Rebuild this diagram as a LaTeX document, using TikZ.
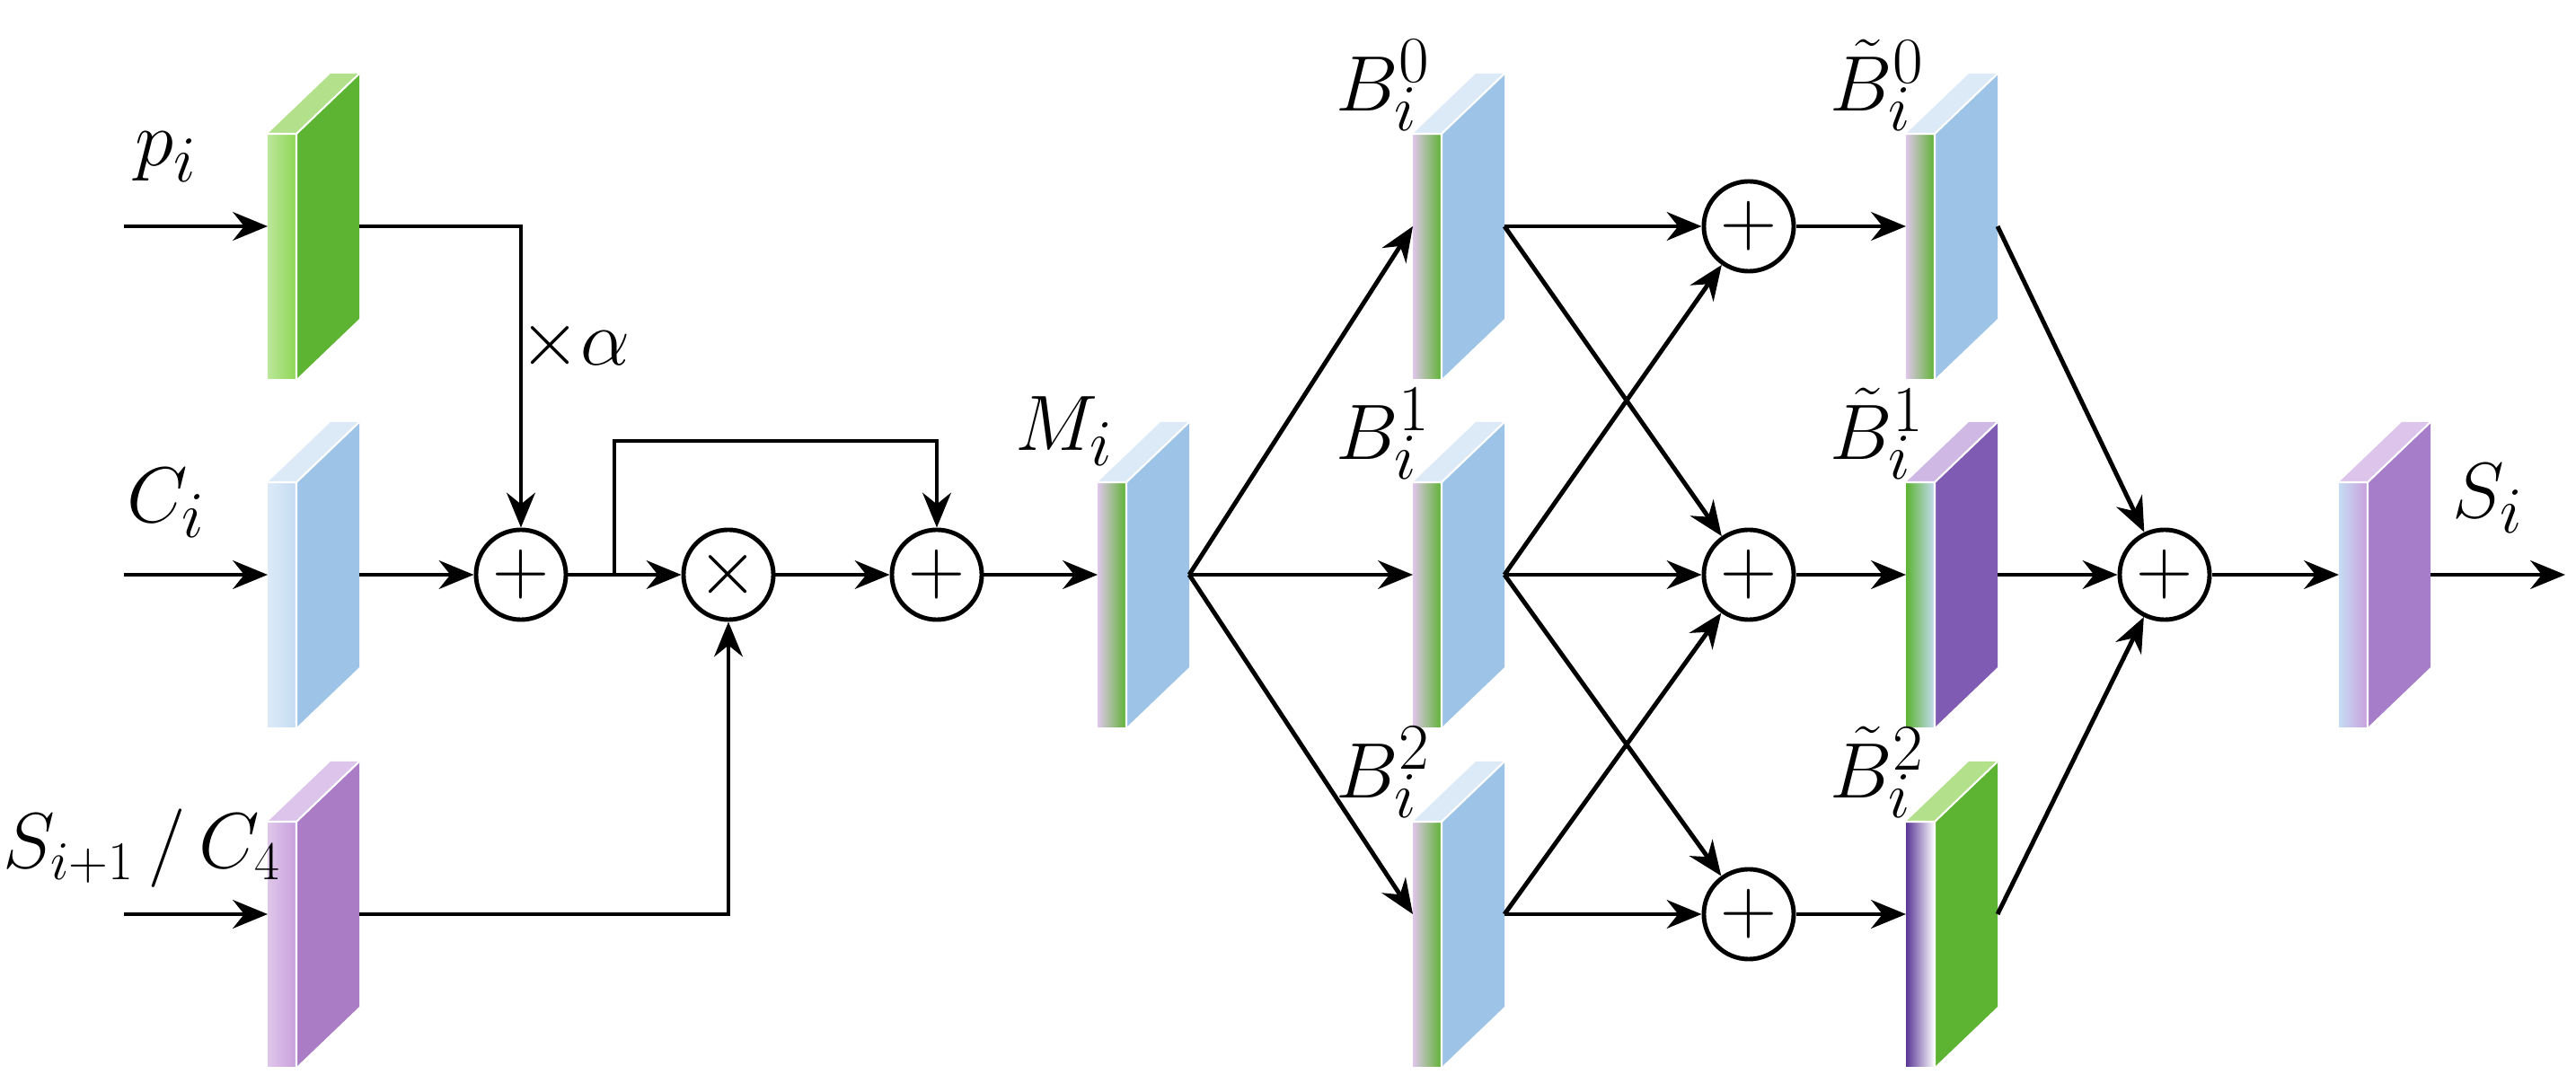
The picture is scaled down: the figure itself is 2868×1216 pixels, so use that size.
\documentclass[tikz,border=0pt]{standalone}
\usetikzlibrary{arrows.meta}
\definecolor{gside}{HTML}{5DB332}\definecolor{gtop}{HTML}{B3E08A}\definecolor{gfront}{HTML}{8ED655}
\definecolor{bside}{HTML}{9DC3E6}\definecolor{btop}{HTML}{DCEAF8}\definecolor{bfront}{HTML}{C5DCF3}
\definecolor{pside}{HTML}{AB7CC6}\definecolor{ptop}{HTML}{DCC4EA}\definecolor{pfront}{HTML}{C9A0DC}
\definecolor{vside}{HTML}{7F5BB3}\definecolor{vtop}{HTML}{D0B8E4}
\definecolor{lside}{HTML}{A57DC8}
\definecolor{dblue}{HTML}{3A78C8}\definecolor{dpurp}{HTML}{5A3596}
\newcommand\blk[6]{%
 \coordinate (#1-in) at (#2,#3);
 \coordinate (#1-o) at (#2+102,#3);
 \fill[#4] (#2,#3-103) -- (#2+32,#3-103) -- (#2+102,#3-170) -- (#2+70,#3-170) -- cycle;
 \fill[#5] (#2+32,#3-103) -- (#2+102,#3-170) -- (#2+102,#3+103) -- (#2+32,#3+170) -- cycle;
 \shade[#6] (#2,#3-103) rectangle (#2+32,#3+170);
 \draw[white,line width=0.6pt] (#2,#3-103) -- (#2+32,#3-103) -- (#2+102,#3-170) (#2+32,#3-103) -- (#2+32,#3+170);
}
\begin{document}
\begin{tikzpicture}[x=0.01cm,y=-0.01cm,
 ar/.style={line width=1.4pt,-{Stealth[length=11pt,width=9pt]}},
 op/.style={circle,draw,line width=1.4pt,minimum size=1cm,inner sep=0pt,font=\fontsize{26}{30}\selectfont},
 lab/.style={font=\fontsize{30}{34}\selectfont},
 stripe/.style={left color=pfront!60!white,middle color=pfront,right color=gside}]
\useasboundingbox (0,0) rectangle (2868,1216);
% blocks
\blk{p}{298}{252}{gtop}{gside}{left color=gfront!60!white,right color=gfront}
\blk{c}{298}{640}{btop}{bside}{left color=bfront!60!white,right color=bfront}
\blk{s}{298}{1018}{ptop}{pside}{left color=pfront!60!white,right color=pfront}
\blk{M}{1222}{640}{btop}{bside}{stripe}
\blk{B0}{1573}{252}{btop}{bside}{stripe}
\blk{B1}{1573}{640}{btop}{bside}{stripe}
\blk{B2}{1573}{1018}{btop}{bside}{stripe}
\blk{T0}{2122}{252}{btop}{bside}{stripe}
\blk{T1}{2122}{640}{vtop}{vside}{left color=gside,middle color=dblue,right color=bfront}
\blk{T2}{2122}{1018}{gtop}{gside}{left color=dpurp,middle color=dpurp!60!white,right color=white}
\blk{S}{2604}{640}{ptop}{lside}{left color=bfront,right color=pfront}
% ops
\node[op] (a1) at (580,640) {$+$};
\node[op] (mu) at (811,640) {$\times$};
\node[op] (a3) at (1043,640) {$+$};
\node[op] (c0) at (1947,252) {$+$};
\node[op] (c1) at (1947,640) {$+$};
\node[op] (c2) at (1947,1018) {$+$};
\node[op] (f) at (2410,640) {$+$};
\coordinate (pin) at (138,252);
\coordinate (cin) at (138,640);
\coordinate (sin) at (138,1018);
\coordinate (br) at (684,640);
\coordinate (brt) at (684,491);
\coordinate (out) at (2856,640);
% connectors
\draw[ar] (pin) -- (p-in);
\draw[ar] (cin) -- (c-in);
\draw[ar] (sin) -- (s-in);
\draw[ar] (p-o) -| (a1);
\draw[ar] (c-o) -- (a1);
\draw[ar] (a1) -- (mu);
\draw[ar] (br) -- (brt) -| (a3);
\draw[ar] (s-o) -| (mu);
\draw[ar] (mu) -- (a3);
\draw[ar] (a3) -- (M-in);
\draw[ar] (M-o) -- (B0-in);
\draw[ar] (M-o) -- (B1-in);
\draw[ar] (M-o) -- (B2-in);
\draw[ar] (B0-o) -- (c0);
\draw[ar] (B0-o) -- (c1);
\draw[ar] (B1-o) -- (c0);
\draw[ar] (B1-o) -- (c1);
\draw[ar] (B1-o) -- (c2);
\draw[ar] (B2-o) -- (c1);
\draw[ar] (B2-o) -- (c2);
\draw[ar] (c0) -- (T0-in);
\draw[ar] (c1) -- (T1-in);
\draw[ar] (c2) -- (T2-in);
\draw[ar] (T0-o) -- (f);
\draw[ar] (T1-o) -- (f);
\draw[ar] (T2-o) -- (f);
\draw[ar] (f) -- (S-in);
\draw[ar] (S-o) -- (out);
% labels
\node[lab] (lp) at (185,175) {$p_i$};
\node[lab] (lc) at (185,560) {$C_i$};
\node[lab,font=\fontsize{26}{30}\selectfont] (ls) at (158,945) {$S_{i+1}\,/\,C_4$};
\node[lab] (la) at (640,385) {$\times\alpha$};
\node[lab] (lm) at (1185,480) {$M_i$};
\node[lab] (lb0) at (1540,95) {$B_i^0$};
\node[lab] (lb1) at (1540,483) {$B_i^1$};
\node[lab] (lb2) at (1540,860) {$B_i^2$};
\node[lab] (lt0) at (2090,95) {$\tilde{B}_i^0$};
\node[lab] (lt1) at (2090,483) {$\tilde{B}_i^1$};
\node[lab] (lt2) at (2090,860) {$\tilde{B}_i^2$};
\node[lab] (lS) at (2770,555) {$S_i$};
\end{tikzpicture}
\end{document}
